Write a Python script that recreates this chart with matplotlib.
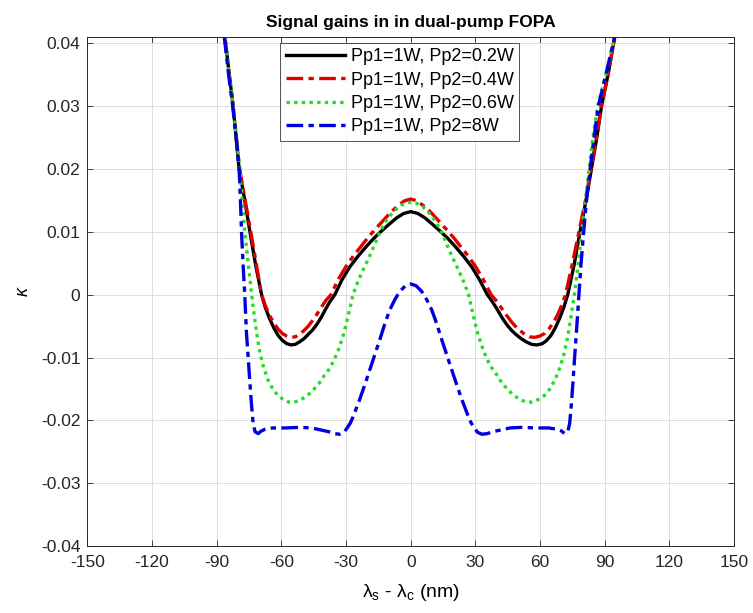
import matplotlib
matplotlib.use("Agg")
import matplotlib.pyplot as plt

plt.rcParams['font.family'] = ['Liberation Sans', 'DejaVu Sans']
plt.rcParams['mathtext.fontset'] = 'custom'
plt.rcParams['mathtext.rm'] = 'Liberation Sans'
plt.rcParams['mathtext.it'] = 'Liberation Sans:italic'
plt.rcParams['mathtext.bf'] = 'Liberation Sans:bold'

# values (x in nm, y = kappa)
x_p02 = [-86.2, -84.2, -82.4, -81.0, -79.6, -77.0, -74.6, -72.0, -69.2, -67.5, -65.5, -63.5,
         -61.5, -59.5, -57.5, -55.5, -53.5, -51.5, -49.5, -47.5, -45.5, -43.5, -41.5, -39.5,
         -37.5, -35.2, -32.0, -28.3, -24.5, -20.5, -17.0, -13.6, -10.0, -6.6, -3.3, 0.0,
         3.3, 6.6, 10.0, 13.6, 17.0, 20.5, 24.5, 28.3, 32.0, 35.5, 38.0, 40.2,
         42.4, 44.6, 46.8, 49.0, 51.2, 53.5, 56.0, 58.5, 61.0, 63.0, 65.0, 67.0,
         69.0, 71.0, 72.8, 75.8, 78.5, 81.3, 83.8, 86.3, 88.5, 91.5, 94.6]
y_p02 = [0.041, 0.035, 0.030, 0.025, 0.020, 0.015, 0.010, 0.0048, 0.0, -0.0020, -0.0038, -0.0053,
         -0.0065, -0.0073, -0.0078, -0.0080, -0.0079, -0.0075, -0.0070, -0.0063, -0.0056, -0.0047, -0.0036, -0.0023,
         -0.0011, 0.0, 0.0023, 0.0044, 0.0061, 0.0077, 0.0090, 0.0101, 0.0112, 0.0122, 0.0129, 0.0132,
         0.0129, 0.0122, 0.0112, 0.0101, 0.0090, 0.0077, 0.0061, 0.0044, 0.0023, 0.0, -0.0012, -0.0024,
         -0.0037, -0.0048, -0.0057, -0.0064, -0.0070, -0.0075, -0.0079, -0.0080, -0.0078, -0.0073, -0.0065, -0.0053,
         -0.0038, -0.0020, 0.0, 0.0048, 0.010, 0.015, 0.020, 0.025, 0.030, 0.035, 0.041]

x_p04 = [-86.2, -84.2, -82.4, -80.9, -79.4, -76.8, -74.2, -71.7, -69.2, -67.5, -65.5, -63.5,
         -61.5, -59.5, -57.5, -55.5, -53.5, -51.5, -49.5, -47.5, -45.5, -43.5, -41.5, -39.3,
         -37.0, -33.5, -30.0, -26.5, -23.0, -19.8, -16.7, -13.0, -9.0, -6.0, -3.0, 0.0,
         3.0, 6.0, 9.0, 13.0, 16.7, 19.8, 23.0, 26.5, 30.0, 33.5, 37.2, 39.5,
         41.8, 44.0, 46.2, 48.4, 50.6, 52.8, 55.0, 57.4, 59.8, 62.0, 64.0, 66.0,
         68.0, 70.0, 71.8, 75.0, 78.0, 81.0, 83.6, 86.1, 88.4, 91.5, 94.6]
y_p04 = [0.041, 0.035, 0.030, 0.025, 0.020, 0.015, 0.010, 0.005, 0.0, -0.0017, -0.0033, -0.0045,
         -0.0055, -0.0062, -0.0066, -0.0068, -0.0067, -0.0063, -0.0057, -0.0050, -0.0041, -0.0031, -0.0020, -0.0009,
         0.0, 0.0025, 0.0045, 0.0062, 0.0077, 0.0091, 0.0103, 0.0117, 0.0132, 0.0141, 0.0149, 0.0152,
         0.0149, 0.0141, 0.0132, 0.0117, 0.0103, 0.0091, 0.0077, 0.0062, 0.0045, 0.0025, 0.0, -0.0009,
         -0.0020, -0.0031, -0.0041, -0.0050, -0.0057, -0.0063, -0.0067, -0.0068, -0.0066, -0.0062, -0.0055, -0.0045,
         -0.0033, -0.0017, 0.0, 0.005, 0.010, 0.015, 0.020, 0.025, 0.030, 0.035, 0.041]

x_p06 = [-86.2, -84.2, -82.4, -80.8, -79.3, -78.2, -77.0, -75.4, -73.8, -72.6, -71.3, -69.9,
         -68.3, -66.3, -64.0, -61.5, -59.0, -56.5, -54.0, -51.5, -49.0, -46.5, -43.7, -41.8,
         -40.0, -38.0, -36.0, -33.7, -31.4, -29.1, -26.8, -24.5, -22.3, -20.2, -18.2, -16.2,
         -14.4, -11.5, -8.5, -5.5, -2.8, 0.0,
         2.8, 5.5, 8.5, 11.5, 14.4, 16.2, 18.2, 20.2, 22.3, 24.5, 26.8, 29.1,
         31.4, 33.7, 36.0, 38.0, 40.0, 41.8, 43.7, 46.5, 49.0, 51.5, 54.0, 56.5,
         59.0, 61.8, 64.5, 67.0, 69.3, 71.2, 72.9, 74.4, 75.9, 77.7, 79.4, 81.0,
         82.7, 84.5, 86.7, 90.5, 94.6]
y_p06 = [0.041, 0.035, 0.030, 0.025, 0.020, 0.015, 0.010, 0.005, 0.0, -0.0033, -0.0065, -0.0093,
         -0.0115, -0.0135, -0.0150, -0.0161, -0.0167, -0.0171, -0.0171, -0.0168, -0.0163, -0.0156, -0.0146, -0.0138,
         -0.0128, -0.0119, -0.0107, -0.0089, -0.0066, -0.0035, 0.0, 0.0021, 0.0038, 0.0053, 0.0068, 0.0084,
         0.0099, 0.0117, 0.0130, 0.0140, 0.0145, 0.0147,
         0.0145, 0.0140, 0.0130, 0.0117, 0.0099, 0.0084, 0.0068, 0.0053, 0.0038, 0.0021, 0.0, -0.0035,
         -0.0066, -0.0089, -0.0107, -0.0119, -0.0128, -0.0138, -0.0146, -0.0156, -0.0163, -0.0168, -0.0171, -0.0171,
         -0.0167, -0.0161, -0.0150, -0.0135, -0.0115, -0.0093, -0.0065, -0.0033, 0.0, 0.005, 0.010, 0.015,
         0.020, 0.025, 0.030, 0.035, 0.041]

x_p8 = [-86.5, -84.5, -82.6, -81.0, -79.6, -79.0, -78.5, -77.8, -77.0, -76.2, -75.4, -74.6,
        -73.8, -73.1, -72.2, -70.8, -69.4, -67.5, -64.0, -58.0, -51.5, -46.0, -42.0, -38.0,
        -35.5, -33.0, -31.0, -29.5, -28.0, -26.7, -23.5, -20.6, -17.5, -14.4, -12.0, -9.7,
        -7.4, -5.1, -2.5, 0.0,
        2.5, 5.1, 7.4, 9.7, 12.0, 14.4, 17.5, 20.6, 23.5, 26.7, 28.0, 29.5,
        31.0, 33.0, 35.5, 38.0, 42.0, 46.0, 51.5, 58.0, 64.0, 67.8, 70.0, 71.4,
        72.8, 73.7, 74.4, 75.2, 76.0, 76.8, 78.0, 79.0, 80.2, 81.5, 83.2, 85.0,
        87.0, 90.5, 94.6]
y_p8 = [0.041, 0.035, 0.030, 0.025, 0.020, 0.015, 0.010, 0.005, 0.0, -0.0061, -0.0100, -0.0141,
        -0.0178, -0.0205, -0.0218, -0.0221, -0.0217, -0.0214, -0.0212, -0.0212, -0.0211, -0.0212, -0.0215, -0.0218,
        -0.0221, -0.0222, -0.0219, -0.0212, -0.0204, -0.0194, -0.0165, -0.0136, -0.0104, -0.0072, -0.0046, -0.0024,
        -0.0008, 0.0005, 0.0014, 0.0017,
        0.0014, 0.0005, -0.0008, -0.0024, -0.0046, -0.0072, -0.0104, -0.0136, -0.0165, -0.0194, -0.0204, -0.0212,
        -0.0219, -0.0222, -0.0221, -0.0218, -0.0215, -0.0212, -0.0211, -0.0212, -0.0212, -0.0214, -0.0217, -0.0221,
        -0.0218, -0.0205, -0.0178, -0.0141, -0.0100, -0.0061, 0.0, 0.005, 0.010, 0.015, 0.020, 0.025,
        0.030, 0.035, 0.041]

labels = ['Pp1=1W, Pp2=0.2W', 'Pp1=1W, Pp2=0.4W', 'Pp1=1W, Pp2=0.6W', 'Pp1=1W, Pp2=8W']
x_ticks = [-150, -120, -90, -60, -30, 0, 30, 60, 90, 120, 150]
x_tick_labels = ['-150', '-120', '-90', '-60', '-30', '0', '30', '60', '90', '120', '150']
y_ticks = [-0.04, -0.03, -0.02, -0.01, 0, 0.01, 0.02, 0.03, 0.04]
y_tick_labels = ['-0.04', '-0.03', '-0.02', '-0.01', '0', '0.01', '0.02', '0.03', '0.04']

fig = plt.figure(figsize=(7.53, 6.13), dpi=100)
ax = fig.add_axes([0.116, 0.109, 0.859, 0.831])

dashdot = (0, (5, 1.6, 1.6, 1.6))
ax.plot(x_p02, y_p02, color='black', linestyle='-', linewidth=2.4, label=labels[0])
ax.plot(x_p04, y_p04, color='#e00000', linestyle=dashdot, linewidth=2.4, label=labels[1])
ax.plot(x_p06, y_p06, color='#22dd22', linestyle=(0, (1, 1.3)), linewidth=2.4, label=labels[2])
ax.plot(x_p8, y_p8, color='#0000dd', linestyle=dashdot, linewidth=2.4, label=labels[3])

ax.set_xlim(-150, 150)
ax.set_ylim(-0.04, 0.041)
ax.set_xticks(x_ticks)
ax.set_xticklabels(x_tick_labels)
ax.set_yticks(y_ticks)
ax.set_yticklabels(y_tick_labels)
ax.tick_params(direction='in', top=True, right=True, labelsize=12.5, length=4, width=0.6,
               colors='#262626')
ax.tick_params(axis='x', pad=6)
ax.tick_params(axis='y', pad=5)
ax.grid(True, color='#dcdcdc', linewidth=0.7)
ax.set_axisbelow(True)
for s in ax.spines.values():
    s.set_linewidth(0.7)
    s.set_color('#262626')

ax.set_title('Signal gains in in dual-pump FOPA', fontsize=12.5, fontweight='bold', pad=7)
ax.set_xlabel(r'$\mathrm{\lambda_s}$ - $\mathrm{\lambda_c}$ (nm)', fontsize=14, labelpad=9)
ax.set_ylabel(r'$\kappa$', fontsize=13, labelpad=6)

leg = ax.legend(loc='upper left', bbox_to_anchor=(0.298, 0.988), fontsize=13, handlelength=3.3,
                frameon=True, fancybox=False, borderpad=0.3, labelspacing=0.35, handletextpad=0.3,
                borderaxespad=0)
leg.get_frame().set_edgecolor('#262626')
leg.get_frame().set_linewidth(0.7)

fig.savefig('out.png', dpi=100)
